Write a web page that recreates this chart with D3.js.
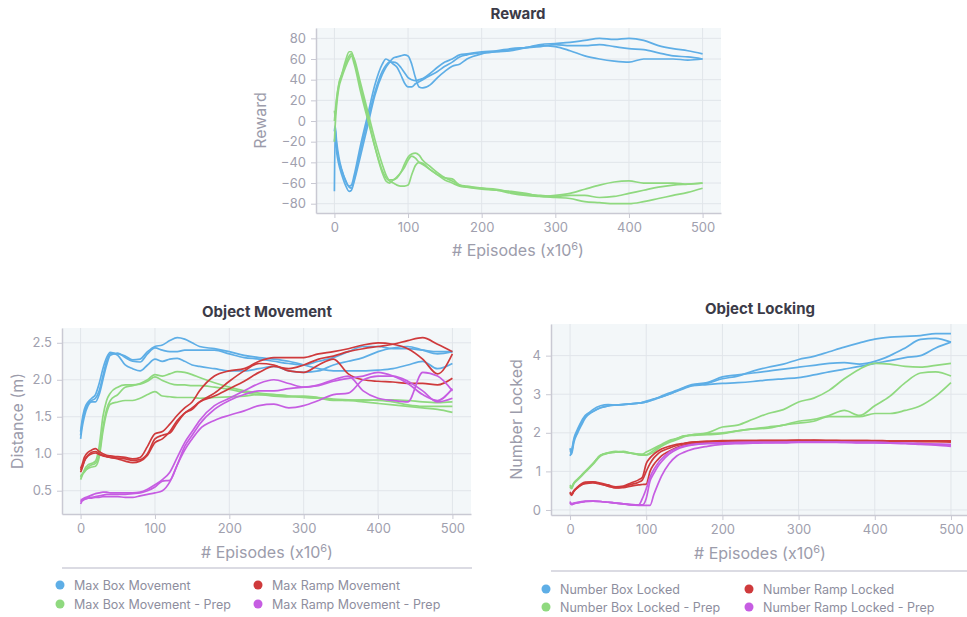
<!DOCTYPE html>
<html>
<head>
<meta charset="utf-8">
<script src="https://cdn.jsdelivr.net/npm/d3@7"></script>
<style>
  body { margin: 0; background: #fff; font-family: Inter, "Noto Sans", sans-serif; }
</style>
</head>
<body>
<div id="chart"></div>
<script>
// ---- data (episodes x10^6) ----
const xTicks = [0, 100, 200, 300, 400, 500];

// Reward
const rewardX = [0, 1, 3, 6, 10, 15, 20, 23, 27, 35, 45, 55, 65, 70, 75, 80, 85, 90, 95, 100, 105, 110, 115, 120, 130, 140, 150, 160, 170, 180, 200, 220, 240, 260, 280, 300, 320, 340, 360, 380, 400, 420, 440, 460, 480, 500];
const rewardHider = [
  [-68, -8, -25, -38, -48, -57, -63, -62, -52, -25, 5, 35, 55, 60, 58, 55, 52, 45, 37, 33, 33, 36, 38, 40, 44, 48, 53, 57, 62, 64, 66, 67, 69, 71, 73, 72, 68, 63, 60, 58, 57, 60, 60, 60, 59, 60],
  [-20, -15, -30, -42, -52, -62, -68, -67, -58, -35, -5, 25, 45, 52, 57, 61, 62, 63, 64, 63, 55, 42, 33, 32, 35, 42, 48, 53, 55, 60, 65, 67, 68, 71, 74, 75, 76, 78, 80, 79, 80, 78, 73, 70, 68, 65],
  [-10, -5, -20, -35, -47, -58, -64, -65, -56, -30, 0, 28, 48, 54, 57, 57, 56, 52, 47, 42, 40, 39, 40, 41, 46, 52, 57, 60, 64, 65, 67, 68, 70, 71, 72, 74, 73, 73, 74, 72, 70, 69, 66, 63, 62, 60]
];
const rewardSeeker = [
  [-20, -5, 15, 32, 42, 52, 60, 63, 55, 30, 2, -25, -48, -55, -58, -60, -62, -63, -63, -62, -52, -43, -40, -41, -47, -52, -57, -60, -63, -64, -66, -67, -70, -72, -73, -72, -70, -66, -62, -59, -58, -60, -60, -60, -61, -60],
  [10, 5, 20, 35, 45, 58, 67, 67, 58, 35, 5, -25, -50, -58, -60, -57, -55, -50, -42, -35, -32, -31, -33, -38, -44, -50, -55, -58, -62, -64, -65, -67, -68, -70, -73, -74, -75, -78, -79, -80, -80, -78, -75, -72, -69, -65],
  [0, 8, 22, 36, 45, 55, 63, 65, 60, 38, 10, -18, -42, -52, -57, -57, -54, -50, -45, -38, -34, -36, -40, -42, -47, -52, -55, -56, -62, -63, -65, -66, -69, -71, -72, -73, -72, -72, -74, -73, -70, -67, -64, -62, -61, -60]
];

// Object Movement
const moveX = [0, 2, 5, 10, 15, 20, 25, 30, 35, 40, 50, 60, 70, 80, 90, 100, 110, 120, 130, 140, 150, 160, 180, 200, 220, 240, 260, 280, 300, 320, 340, 360, 380, 400, 420, 440, 460, 480, 500];
const maxBoxMove = [
  [1.25, 1.4, 1.55, 1.68, 1.72, 1.75, 1.85, 2.05, 2.25, 2.35, 2.35, 2.32, 2.27, 2.28, 2.38, 2.45, 2.47, 2.53, 2.57, 2.55, 2.5, 2.45, 2.42, 2.38, 2.33, 2.3, 2.28, 2.25, 2.2, 2.15, 2.12, 2.12, 2.12, 2.13, 2.15, 2.2, 2.25, 2.15, 2.22],
  [1.2, 1.35, 1.5, 1.65, 1.7, 1.7, 1.8, 2.0, 2.2, 2.33, 2.36, 2.3, 2.25, 2.24, 2.35, 2.43, 2.4, 2.38, 2.38, 2.4, 2.4, 2.4, 2.4, 2.35, 2.3, 2.28, 2.25, 2.22, 2.2, 2.25, 2.3, 2.38, 2.45, 2.45, 2.42, 2.42, 2.4, 2.38, 2.38],
  [1.3, 1.45, 1.6, 1.7, 1.75, 1.8, 1.95, 2.15, 2.3, 2.37, 2.33, 2.2, 2.15, 2.12, 2.2, 2.28, 2.25, 2.28, 2.29, 2.25, 2.2, 2.18, 2.15, 2.12, 2.12, 2.15, 2.18, 2.12, 2.1, 2.12, 2.2, 2.25, 2.3, 2.38, 2.43, 2.45, 2.4, 2.35, 2.38]
];
const maxBoxMovePrep = [
  [0.7, 0.72, 0.75, 0.82, 0.85, 0.87, 1.0, 1.35, 1.6, 1.72, 1.8, 1.9, 1.92, 1.95, 2.0, 2.07, 2.05, 2.08, 2.11, 2.1, 2.07, 2.03, 1.96, 1.9, 1.85, 1.82, 1.8, 1.78, 1.77, 1.75, 1.72, 1.72, 1.7, 1.68, 1.66, 1.64, 1.62, 1.6, 1.56],
  [0.65, 0.7, 0.78, 0.85, 0.87, 0.9, 1.1, 1.5, 1.72, 1.82, 1.9, 1.93, 1.93, 1.94, 1.98, 2.04, 1.99, 1.95, 1.93, 1.93, 1.92, 1.92, 1.9, 1.87, 1.83, 1.8, 1.8, 1.78, 1.76, 1.75, 1.73, 1.72, 1.73, 1.72, 1.7, 1.66, 1.64, 1.64, 1.64],
  [0.68, 0.72, 0.76, 0.8, 0.82, 0.83, 0.95, 1.3, 1.55, 1.67, 1.7, 1.72, 1.72, 1.75, 1.8, 1.84, 1.78, 1.77, 1.76, 1.76, 1.76, 1.75, 1.76, 1.77, 1.78, 1.8, 1.78, 1.77, 1.78, 1.76, 1.74, 1.73, 1.72, 1.73, 1.73, 1.72, 1.7, 1.69, 1.7]
];
const maxRampMove = [
  [0.8, 0.85, 0.95, 1.02, 1.05, 1.07, 1.03, 1.0, 0.98, 0.97, 0.96, 0.95, 0.93, 0.95, 1.1, 1.27, 1.3, 1.4, 1.52, 1.62, 1.7, 1.85, 2.05, 2.12, 2.15, 2.25, 2.3, 2.3, 2.3, 2.35, 2.38, 2.42, 2.47, 2.5, 2.48, 2.42, 2.28, 2.08, 2.35],
  [0.75, 0.8, 0.9, 0.98, 1.02, 1.03, 1.0, 0.98, 0.96, 0.95, 0.93, 0.9, 0.88, 0.9, 0.98, 1.15, 1.2, 1.3, 1.45, 1.55, 1.62, 1.7, 1.78, 1.88, 1.98, 2.1, 2.18, 2.15, 2.2, 2.28, 2.32, 2.38, 2.42, 2.45, 2.48, 2.53, 2.57, 2.48, 2.38],
  [0.78, 0.82, 0.9, 0.97, 1.0, 1.01, 0.99, 0.97, 0.96, 0.95, 0.94, 0.93, 0.91, 0.92, 1.0, 1.2, 1.25, 1.28, 1.42, 1.55, 1.6, 1.7, 1.82, 1.98, 2.12, 2.22, 2.2, 2.12, 2.1, 2.2, 2.28, 2.08, 2.0, 1.98, 1.97, 1.95, 1.95, 1.93, 2.02]
];
const maxRampMovePrep = [
  [0.35, 0.38, 0.4, 0.42, 0.44, 0.46, 0.47, 0.48, 0.48, 0.47, 0.47, 0.47, 0.47, 0.48, 0.52, 0.58, 0.65, 0.75, 0.95, 1.15, 1.3, 1.45, 1.65, 1.75, 1.85, 1.95, 2.0, 1.95, 1.9, 1.93, 2.0, 2.05, 1.85, 1.75, 1.72, 1.7, 2.1, 2.05, 1.85],
  [0.32, 0.36, 0.38, 0.4, 0.41, 0.42, 0.43, 0.44, 0.45, 0.45, 0.45, 0.45, 0.46, 0.47, 0.5, 0.55, 0.63, 0.64, 0.85, 1.1, 1.25, 1.4, 1.6, 1.72, 1.8, 1.85, 1.85, 1.88, 1.9, 1.92, 1.98, 2.02, 2.05, 2.1, 2.05, 1.95, 1.8, 1.72, 1.88],
  [0.38, 0.38, 0.39, 0.4, 0.4, 0.41, 0.41, 0.42, 0.42, 0.42, 0.42, 0.41, 0.41, 0.43, 0.45, 0.47, 0.5, 0.62, 0.85, 1.05, 1.2, 1.33, 1.45, 1.52, 1.58, 1.65, 1.67, 1.62, 1.65, 1.72, 1.8, 1.82, 2.0, 2.05, 2.05, 1.98, 1.85, 1.7, 1.75]
];

// Object Locking
const lockX = [0, 2, 5, 10, 15, 20, 30, 40, 50, 60, 70, 80, 90, 95, 100, 105, 110, 115, 120, 130, 140, 150, 160, 180, 200, 220, 240, 260, 280, 300, 320, 340, 360, 380, 400, 420, 440, 460, 480, 500];
const boxLocked = [
  [1.6, 1.45, 1.75, 2.0, 2.2, 2.38, 2.55, 2.65, 2.7, 2.72, 2.74, 2.75, 2.77, 2.78, 2.8, 2.83, 2.87, 2.9, 2.93, 3.0, 3.08, 3.15, 3.22, 3.28, 3.4, 3.47, 3.6, 3.7, 3.78, 3.9, 3.98, 4.1, 4.22, 4.33, 4.43, 4.48, 4.5, 4.52, 4.57, 4.57],
  [1.4, 1.5, 1.8, 2.05, 2.25, 2.42, 2.6, 2.7, 2.73, 2.72, 2.73, 2.75, 2.77, 2.79, 2.82, 2.85, 2.88, 2.91, 2.95, 3.03, 3.1, 3.18, 3.25, 3.3, 3.45, 3.5, 3.55, 3.6, 3.65, 3.7, 3.75, 3.8, 3.82, 3.78, 3.85, 4.0, 4.2, 4.42, 4.45, 4.35],
  [1.5, 1.55, 1.85, 2.1, 2.3, 2.45, 2.55, 2.65, 2.7, 2.72, 2.73, 2.75, 2.77, 2.78, 2.8, 2.83, 2.86, 2.9, 2.93, 3.0, 3.08, 3.17, 3.22, 3.25, 3.28, 3.3, 3.33, 3.37, 3.4, 3.43, 3.5, 3.58, 3.65, 3.72, 3.8, 3.87, 3.95, 4.0, 4.2, 4.35]
];
const boxLockedPrep = [
  [0.65, 0.6, 0.7, 0.8, 0.9, 1.0, 1.2, 1.42, 1.48, 1.5, 1.52, 1.48, 1.45, 1.45, 1.5, 1.55, 1.6, 1.65, 1.7, 1.8, 1.85, 1.92, 1.95, 2.0, 2.15, 2.2, 2.35, 2.5, 2.6, 2.8, 2.9, 3.1, 3.4, 3.65, 3.8, 3.78, 3.72, 3.7, 3.75, 3.8],
  [0.6, 0.55, 0.68, 0.78, 0.88, 0.98, 1.18, 1.4, 1.47, 1.5, 1.5, 1.47, 1.43, 1.42, 1.42, 1.45, 1.5, 1.58, 1.65, 1.75, 1.82, 1.9, 1.95, 1.97, 2.0, 2.05, 2.1, 2.15, 2.2, 2.3, 2.35, 2.45, 2.58, 2.45, 2.7, 2.95, 3.3, 3.55, 3.58, 3.47],
  [0.62, 0.58, 0.7, 0.8, 0.9, 1.0, 1.2, 1.42, 1.48, 1.52, 1.5, 1.47, 1.44, 1.43, 1.43, 1.48, 1.55, 1.62, 1.68, 1.78, 1.85, 1.92, 1.93, 1.95, 1.98, 2.05, 2.1, 2.12, 2.2, 2.25, 2.3, 2.42, 2.42, 2.42, 2.5, 2.5, 2.58, 2.7, 2.95, 3.3]
];
const rampLocked = [
  [0.45, 0.4, 0.5, 0.6, 0.68, 0.72, 0.73, 0.7, 0.65, 0.6, 0.62, 0.7, 0.78, 0.85, 1.2, 1.35, 1.45, 1.52, 1.58, 1.65, 1.7, 1.73, 1.76, 1.78, 1.8, 1.8, 1.8, 1.8, 1.8, 1.8, 1.81, 1.8, 1.8, 1.8, 1.8, 1.79, 1.79, 1.79, 1.79, 1.79],
  [0.43, 0.38, 0.48, 0.58, 0.66, 0.7, 0.72, 0.68, 0.62, 0.57, 0.6, 0.66, 0.72, 0.78, 1.0, 1.2, 1.35, 1.45, 1.52, 1.6, 1.67, 1.72, 1.75, 1.78, 1.79, 1.8, 1.8, 1.8, 1.8, 1.81, 1.8, 1.8, 1.8, 1.8, 1.79, 1.79, 1.79, 1.78, 1.78, 1.78],
  [0.47, 0.42, 0.5, 0.58, 0.65, 0.68, 0.7, 0.67, 0.62, 0.58, 0.58, 0.62, 0.65, 0.66, 0.67, 1.0, 1.18, 1.3, 1.4, 1.52, 1.62, 1.68, 1.72, 1.76, 1.78, 1.79, 1.79, 1.8, 1.8, 1.8, 1.8, 1.8, 1.79, 1.79, 1.79, 1.78, 1.78, 1.77, 1.77, 1.76]
];
const rampLockedPrep = [
  [0.2, 0.15, 0.17, 0.19, 0.21, 0.22, 0.23, 0.22, 0.2, 0.18, 0.16, 0.14, 0.13, 0.3, 0.55, 0.85, 1.05, 1.2, 1.32, 1.5, 1.6, 1.66, 1.7, 1.73, 1.74, 1.75, 1.75, 1.75, 1.76, 1.76, 1.76, 1.76, 1.76, 1.75, 1.75, 1.74, 1.73, 1.72, 1.7, 1.68],
  [0.18, 0.14, 0.16, 0.18, 0.2, 0.22, 0.23, 0.22, 0.2, 0.18, 0.16, 0.14, 0.13, 0.13, 0.3, 0.75, 0.95, 1.12, 1.25, 1.45, 1.57, 1.64, 1.68, 1.72, 1.73, 1.74, 1.75, 1.75, 1.75, 1.76, 1.76, 1.76, 1.75, 1.75, 1.75, 1.74, 1.73, 1.72, 1.71, 1.7],
  [0.22, 0.16, 0.18, 0.2, 0.22, 0.23, 0.23, 0.22, 0.2, 0.18, 0.16, 0.13, 0.12, 0.12, 0.12, 0.12, 0.4, 0.65, 0.88, 1.2, 1.4, 1.5, 1.57, 1.65, 1.7, 1.72, 1.73, 1.74, 1.74, 1.75, 1.75, 1.75, 1.75, 1.74, 1.74, 1.73, 1.72, 1.7, 1.68, 1.65]
];

const colors = { box: "#5eaee6", boxPrep: "#8fd97f", ramp: "#cf3a3c", rampPrep: "#c65de2" };

const svg = d3.select("#chart").append("svg")
  .attr("width", 967).attr("height", 617)
  .style("font-family", "Inter, 'Noto Sans', sans-serif");

function lineChart(o) {
  const x = d3.scaleLinear().domain([-25, 525]).range([o.left, o.right]);
  const y = d3.scaleLinear().domain(o.yDomain).range([o.bottom, o.top]);
  const g = svg.append("g");

  g.append("rect")
    .attr("x", o.left).attr("y", o.top)
    .attr("width", o.right - o.left).attr("height", o.bottom - o.top)
    .attr("fill", "#f3f7f9");

  // grid
  g.append("g").selectAll("line").data(xTicks).join("line")
    .attr("x1", d => x(d)).attr("x2", d => x(d))
    .attr("y1", o.top).attr("y2", o.bottom)
    .attr("stroke", "#e1e5ea").attr("stroke-width", 1);
  g.append("g").selectAll("line").data(o.yTicks).join("line")
    .attr("x1", o.left).attr("x2", o.right)
    .attr("y1", d => y(d)).attr("y2", d => y(d))
    .attr("stroke", "#e1e5ea").attr("stroke-width", 1);

  const xAxis = g.append("g")
    .attr("transform", `translate(0,${o.bottom})`)
    .call(d3.axisBottom(x).tickValues(xTicks).tickSize(5).tickSizeOuter(0).tickPadding(5));
  const yAxis = g.append("g")
    .attr("transform", `translate(${o.left},0)`)
    .call(d3.axisLeft(y).tickValues(o.yTicks).tickFormat(o.yFormat).tickSize(5).tickSizeOuter(0).tickPadding(5));
  [xAxis, yAxis].forEach(a => {
    a.select(".domain").attr("stroke", "#c9c9d3").attr("stroke-width", 1.5);
    a.selectAll(".tick line").attr("stroke", "#c9c9d3");
    a.selectAll(".tick text").attr("fill", "#a0a0ae")
      .style("font-family", "Inter, 'Noto Sans', sans-serif").style("font-size", "13px");
  });

  const line = d3.line()
    .x((d, i) => x(o.xs[i]))
    .y(d => y(d))
    .curve(d3.curveMonotoneX);

  o.series.forEach(s => {
    s.runs.forEach(run => {
      g.append("path")
        .attr("d", line(run))
        .attr("fill", "none")
        .attr("stroke", s.color)
        .attr("stroke-width", 1.7)
        .attr("stroke-linejoin", "round");
    });
  });

  const cx = (o.left + o.right) / 2;
  g.append("text")
    .attr("x", o.titleX).attr("y", o.titleY)
    .attr("text-anchor", "middle")
    .attr("fill", "#3b3b48").style("font-size", "15px").style("font-weight", 700)
    .text(o.title);

  const xl = g.append("text")
    .attr("x", o.titleX).attr("y", o.xLabelY)
    .attr("text-anchor", "middle")
    .attr("fill", "#9c9cab").style("font-size", "16px");
  xl.append("tspan").text("# Episodes (x10");
  xl.append("tspan").attr("dy", -6).style("font-size", "11px").text("6");
  xl.append("tspan").attr("dy", 6).text(")");

  g.append("text")
    .attr("transform", `translate(${o.yLabelX},${(o.top + o.bottom) / 2}) rotate(-90)`)
    .attr("text-anchor", "middle")
    .attr("fill", "#9c9cab").style("font-size", "16px")
    .text(o.yLabel);

  if (o.legend) {
    g.append("line")
      .attr("x1", o.legend.x1).attr("x2", o.legend.x2)
      .attr("y1", o.legend.lineY).attr("y2", o.legend.lineY)
      .attr("stroke", "#cfcfda").attr("stroke-width", 1.5);
    o.legend.items.forEach(it => {
      g.append("circle").attr("cx", it.x).attr("cy", it.y).attr("r", 4.5).attr("fill", it.color);
      g.append("text").attr("x", it.x + 14).attr("y", it.y + 4.5)
        .attr("fill", "#8e8e9e").style("font-size", "12.5px")
        .text(it.label);
    });
  }
}

lineChart({
  left: 316, right: 721, top: 28, bottom: 213,
  xs: rewardX, yDomain: [-89, 90], yTicks: [-80, -60, -40, -20, 0, 20, 40, 60, 80], yFormat: d3.format("d"),
  series: [{ color: colors.box, runs: rewardHider }, { color: colors.boxPrep, runs: rewardSeeker }],
  title: "Reward", titleX: 518, titleY: 19, xLabelY: 256, yLabel: "Reward", yLabelX: 266
});

lineChart({
  left: 62, right: 471, top: 328, bottom: 514,
  xs: moveX, yDomain: [0.185, 2.70], yTicks: [0.5, 1.0, 1.5, 2.0, 2.5], yFormat: d3.format(".1f"),
  series: [
    { color: colors.box, runs: maxBoxMove },
    { color: colors.boxPrep, runs: maxBoxMovePrep },
    { color: colors.ramp, runs: maxRampMove },
    { color: colors.rampPrep, runs: maxRampMovePrep }
  ],
  title: "Object Movement", titleX: 267, titleY: 317, xLabelY: 558, yLabel: "Distance (m)", yLabelX: 23,
  legend: {
    x1: 62, x2: 472, lineY: 568,
    items: [
      { x: 60, y: 585, color: colors.box, label: "Max Box Movement" },
      { x: 258, y: 585, color: colors.ramp, label: "Max Ramp Movement" },
      { x: 60, y: 604, color: colors.boxPrep, label: "Max Box Movement - Prep" },
      { x: 258, y: 604, color: colors.rampPrep, label: "Max Ramp Movement - Prep" }
    ]
  }
});

lineChart({
  left: 551, right: 970, top: 324, bottom: 515,
  xs: lockX, yDomain: [-0.13, 4.82], yTicks: [0, 1, 2, 3, 4], yFormat: d3.format("d"),
  series: [
    { color: colors.box, runs: boxLocked },
    { color: colors.boxPrep, runs: boxLockedPrep },
    { color: colors.ramp, runs: rampLocked },
    { color: colors.rampPrep, runs: rampLockedPrep }
  ],
  title: "Object Locking", titleX: 760, titleY: 314, xLabelY: 559, yLabel: "Number Locked", yLabelX: 522,
  legend: {
    x1: 551, x2: 967, lineY: 571,
    items: [
      { x: 546, y: 589, color: colors.box, label: "Number Box Locked" },
      { x: 749, y: 589, color: colors.ramp, label: "Number Ramp Locked" },
      { x: 546, y: 607, color: colors.boxPrep, label: "Number Box Locked - Prep" },
      { x: 749, y: 607, color: colors.rampPrep, label: "Number Ramp Locked - Prep" }
    ]
  }
});
</script>
</body>
</html>
